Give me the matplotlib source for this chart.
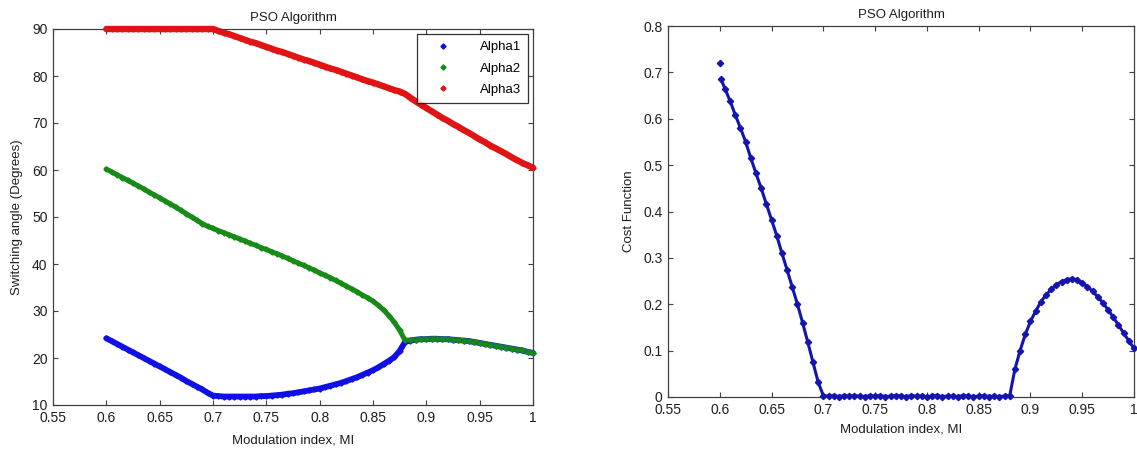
import matplotlib
matplotlib.use("Agg")
import matplotlib.pyplot as plt
import numpy as np

plt.rcParams['font.family'] = ['Liberation Sans', 'DejaVu Sans']

# ---------------- data ----------------
mi = [0.600, 0.605, 0.610, 0.615, 0.620, 0.625, 0.630, 0.635, 0.640, 0.645,
      0.650, 0.655, 0.660, 0.665, 0.670, 0.675, 0.680, 0.685, 0.690, 0.695,
      0.700, 0.705, 0.710, 0.715, 0.720, 0.725, 0.730, 0.735, 0.740, 0.745,
      0.750, 0.755, 0.760, 0.765, 0.770, 0.775, 0.780, 0.785, 0.790, 0.795,
      0.800, 0.805, 0.810, 0.815, 0.820, 0.825, 0.830, 0.835, 0.840, 0.845,
      0.850, 0.855, 0.860, 0.865, 0.870, 0.875, 0.880, 0.885, 0.890, 0.895,
      0.900, 0.905, 0.910, 0.915, 0.920, 0.925, 0.930, 0.935, 0.940, 0.945,
      0.950, 0.955, 0.960, 0.965, 0.970, 0.975, 0.980, 0.985, 0.990, 0.995,
      1.000]

alpha1 = [24.2, 23.6, 23.0, 22.4, 21.8, 21.2, 20.6, 20.0, 19.4, 18.8,
          18.2, 17.6, 17.0, 16.4, 15.8, 15.1, 14.5, 13.9, 13.3, 12.6,
          12.0, 11.9, 11.8, 11.8, 11.8, 11.8, 11.8, 11.8, 11.8, 11.9,
          11.9, 12.0, 12.1, 12.2, 12.4, 12.5, 12.7, 12.9, 13.1, 13.3,
          13.5, 13.8, 14.1, 14.4, 14.7, 15.1, 15.5, 15.9, 16.4, 16.9,
          17.4, 18.0, 18.7, 19.4, 20.2, 21.5, 23.4, 23.7, 23.9, 24.0,
          24.0, 24.1, 24.1, 24.0, 24.0, 23.9, 23.8, 23.7, 23.6, 23.4,
          23.2, 23.0, 22.8, 22.6, 22.4, 22.2, 22.0, 21.8, 21.6, 21.3,
          21.1]

alpha2 = [60.2, 59.6, 59.0, 58.4, 57.8, 57.2, 56.6, 56.0, 55.3, 54.7,
          54.1, 53.4, 52.8, 52.1, 51.4, 50.7, 50.0, 49.3, 48.6, 48.0,
          47.6, 47.1, 46.7, 46.2, 45.8, 45.3, 44.9, 44.4, 44.0, 43.5,
          43.1, 42.6, 42.2, 41.7, 41.2, 40.7, 40.2, 39.7, 39.2, 38.7,
          38.1, 37.6, 37.1, 36.5, 35.9, 35.3, 34.7, 34.1, 33.4, 32.8,
          32.1, 31.2, 30.2, 29.0, 27.6, 25.9, 23.8, 23.8, 23.9, 24.0,
          24.0, 24.1, 24.1, 24.0, 24.0, 23.9, 23.8, 23.7, 23.6, 23.4,
          23.2, 23.0, 22.8, 22.6, 22.4, 22.2, 22.0, 21.8, 21.6, 21.3,
          21.1]

alpha3 = [90.0, 90.0, 90.0, 90.0, 90.0, 90.0, 90.0, 90.0, 90.0, 90.0,
          90.0, 90.0, 90.0, 90.0, 90.0, 90.0, 90.0, 90.0, 90.0, 90.0,
          90.0, 89.6, 89.2, 88.9, 88.5, 88.1, 87.7, 87.3, 87.0, 86.6,
          86.2, 85.8, 85.4, 85.1, 84.7, 84.3, 83.9, 83.5, 83.2, 82.8,
          82.4, 82.0, 81.6, 81.3, 80.9, 80.5, 80.1, 79.7, 79.3, 78.9,
          78.6, 78.2, 77.8, 77.4, 77.0, 76.7, 76.2, 75.4, 74.6, 73.9,
          73.2, 72.5, 71.8, 71.1, 70.5, 69.8, 69.2, 68.5, 67.9, 67.2,
          66.5, 65.9, 65.2, 64.6, 64.0, 63.4, 62.7, 62.1, 61.5, 61.0,
          60.5]

mi_cost = [0.600, 0.601, 0.605, 0.610, 0.615, 0.620, 0.625, 0.630, 0.635, 0.640,
           0.645, 0.650, 0.655, 0.660, 0.665, 0.670, 0.675, 0.680, 0.685, 0.690,
           0.695, 0.700, 0.705, 0.710, 0.715, 0.720, 0.725, 0.730, 0.735, 0.740,
           0.745, 0.750, 0.755, 0.760, 0.765, 0.770, 0.775, 0.780, 0.785, 0.790,
           0.795, 0.800, 0.805, 0.810, 0.815, 0.820, 0.825, 0.830, 0.835, 0.840,
           0.845, 0.850, 0.855, 0.860, 0.865, 0.870, 0.875, 0.880, 0.885, 0.890,
           0.895, 0.900, 0.905, 0.910, 0.915, 0.920, 0.925, 0.930, 0.935, 0.940,
           0.945, 0.950, 0.955, 0.960, 0.965, 0.970, 0.975, 0.980, 0.985, 0.990,
           0.995, 1.000]

cost = [0.720, 0.686, 0.665, 0.638, 0.608, 0.580, 0.550, 0.515, 0.482, 0.450,
        0.416, 0.382, 0.348, 0.310, 0.274, 0.237, 0.200, 0.160, 0.118, 0.075,
        0.032, 0.003, 0.002, 0.003, 0.001, 0.003, 0.002, 0.003, 0.002, 0.001,
        0.003, 0.002, 0.003, 0.001, 0.002, 0.003, 0.002, 0.001, 0.003, 0.002,
        0.002, 0.001, 0.002, 0.003, 0.001, 0.002, 0.002, 0.001, 0.003, 0.002,
        0.001, 0.002, 0.003, 0.001, 0.002, 0.001, 0.002, 0.003, 0.060, 0.100,
        0.135, 0.163, 0.185, 0.205, 0.220, 0.232, 0.242, 0.249, 0.253, 0.255,
        0.253, 0.246, 0.238, 0.228, 0.216, 0.203, 0.188, 0.172, 0.155, 0.138,
        0.121, 0.105]

series_names = ['Alpha1', 'Alpha2', 'Alpha3']
x_ticks = [0.55, 0.6, 0.65, 0.7, 0.75, 0.8, 0.85, 0.9, 0.95, 1.0]
x_tick_labels = ['0.55', '0.6', '0.65', '0.7', '0.75', '0.8', '0.85', '0.9', '0.95', '1']
y1_ticks = [10, 20, 30, 40, 50, 60, 70, 80, 90]
y2_ticks = [0, 0.1, 0.2, 0.3, 0.4, 0.5, 0.6, 0.7, 0.8]
y2_tick_labels = ['0', '0.1', '0.2', '0.3', '0.4', '0.5', '0.6', '0.7', '0.8']

# ---------------- style ----------------
C_BLUE = '#1010e6'
C_GREEN = '#178a17'
C_RED = '#e01414'
C_COST = '#1414b0'
SPINE = '#404040'
TXT = '#1e1e1e'

fig = plt.figure(figsize=(11.37, 4.5), dpi=100)
fig.patch.set_facecolor('white')

ax1 = fig.add_axes([53 / 1137, 45 / 450, 480 / 1137, 376 / 450])
ax2 = fig.add_axes([668 / 1137, 53 / 450, 466 / 1137, 371 / 450])


def style_axes(ax):
    for s in ax.spines.values():
        s.set_color(SPINE)
        s.set_linewidth(0.9)
    ax.tick_params(direction='in', length=3.5, width=0.8, color=SPINE,
                   top=True, right=True, labelsize=10, labelcolor=TXT, pad=4)


mi_a = np.array(mi)
lw = {'Alpha1': 4.2, 'Alpha2': 3.6, 'Alpha3': 4.6}
for name, vals, col in zip(series_names, [alpha1, alpha2, alpha3],
                           [C_BLUE, C_GREEN, C_RED]):
    ax1.plot(mi_a, vals, '-', color=col, lw=lw[name], solid_capstyle='round',
             clip_on=False, zorder=2)
    ax1.plot(mi_a, vals, linestyle='none', marker='D', markersize=2.6,
             color=col, label=name, clip_on=False, zorder=3)

ax1.set_xlim(0.55, 1.0)
ax1.set_ylim(10, 90)
ax1.set_xticks(x_ticks)
ax1.set_xticklabels(x_tick_labels)
ax1.set_yticks(y1_ticks)
style_axes(ax1)
ax1.set_title('PSO Algorithm', fontsize=9.5, color=TXT, pad=6)
ax1.set_xlabel('Modulation index, MI', fontsize=9.5, color=TXT, labelpad=7)
ax1.set_ylabel('Switching angle (Degrees)', fontsize=9.5, color=TXT, labelpad=6)
leg = ax1.legend(loc='upper right', bbox_to_anchor=(1 - 5 / 480, 1 - 5 / 376),
                 borderaxespad=0.0, fontsize=9.5,
                 frameon=True, fancybox=False, edgecolor='black',
                 handlelength=2.8, handletextpad=1.4, borderpad=0.55,
                 labelspacing=0.68, markerscale=1.0)
leg.get_frame().set_linewidth(0.9)

ax2.plot(mi_cost[1:], cost[1:], '-', color=C_COST, lw=2.2, clip_on=False, zorder=2)
ax2.plot(mi_cost, cost, linestyle='none', marker='D', markersize=3.2,
         color=C_COST, clip_on=False, zorder=3)
ax2.set_xlim(0.55, 1.0)
ax2.set_ylim(0, 0.8)
ax2.set_xticks(x_ticks)
ax2.set_xticklabels(x_tick_labels)
ax2.set_yticks(y2_ticks)
ax2.set_yticklabels(y2_tick_labels)
style_axes(ax2)
ax2.set_title('PSO Algorithm', fontsize=9.5, color=TXT, pad=6)
ax2.set_xlabel('Modulation index, MI', fontsize=9.5, color=TXT, labelpad=5)
ax2.set_ylabel('Cost Function', fontsize=9.5, color=TXT, labelpad=6)

fig.savefig('out.png', dpi=100, facecolor='white')
